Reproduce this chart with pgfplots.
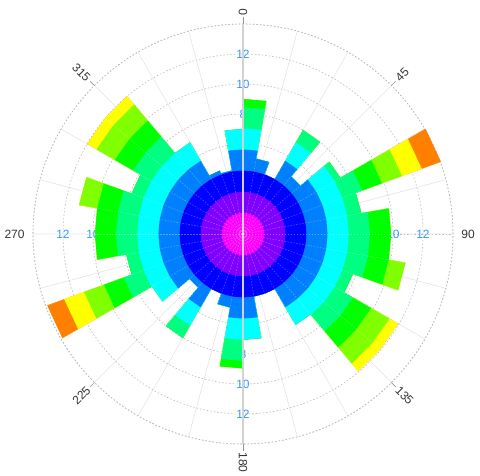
\documentclass[border=0pt]{standalone}
\usepackage{fontspec}
\setmainfont{Liberation Sans}
\usepackage{pgfplots}
\usepackage{pgfplotstable}
\pgfplotsset{compat=1.18}
\usepgfplotslibrary{polar}
\definecolor{cMag}{HTML}{FF00FF}
\definecolor{cPur}{HTML}{8000FF}
\definecolor{cBlu}{HTML}{0000FF}
\definecolor{cAzu}{HTML}{0080FF}
\definecolor{cCya}{HTML}{00FFFF}
\definecolor{cSpr}{HTML}{00FF80}
\definecolor{cGre}{HTML}{00FF00}
\definecolor{cCha}{HTML}{80FF00}
\definecolor{cYel}{HTML}{FFFF00}
\definecolor{cOra}{HTML}{FF8000}
\definecolor{cLab}{HTML}{3399FF}
\definecolor{cTxt}{HTML}{333333}
% compass angle (deg, clockwise from north) and cumulative radius of each band
\pgfplotstableread{
ang L1 L2 L3 L4 L5 L6 L7 L8 L9 L10
0 1.41 2.82 4.23 5.64 7.05 8.46 9.00 9.00 9.00 9.00
10 1.41 2.82 4.23 5.64 7.05 8.46 9.00 9.00 9.00 9.00
10 1.41 2.82 4.23 5.10 5.10 5.10 5.10 5.10 5.10 5.10
20 1.41 2.82 4.23 5.10 5.10 5.10 5.10 5.10 5.10 5.10
20 1.41 2.82 4.23 4.23 4.23 4.23 4.23 4.23 4.23 4.23
30 1.41 2.82 4.23 4.23 4.23 4.23 4.23 4.23 4.23 4.23
30 1.41 2.82 4.23 5.64 7.05 8.00 8.00 8.00 8.00 8.00
40 1.41 2.82 4.23 5.64 7.05 8.00 8.00 8.00 8.00 8.00
40 1.41 2.82 4.23 5.00 5.00 5.00 5.00 5.00 5.00 5.00
50 1.41 2.82 4.23 5.00 5.00 5.00 5.00 5.00 5.00 5.00
50 1.41 2.82 4.23 5.64 7.05 7.50 7.50 7.50 7.50 7.50
60 1.41 2.82 4.23 5.64 7.05 7.50 7.50 7.50 7.50 7.50
60 1.41 2.82 4.23 5.64 7.05 8.46 9.87 11.28 12.69 14.05
70 1.41 2.82 4.23 5.64 7.05 8.46 9.87 11.28 12.69 14.05
70 1.41 2.82 4.23 5.64 7.05 8.00 8.00 8.00 8.00 8.00
80 1.41 2.82 4.23 5.64 7.05 8.00 8.00 8.00 8.00 8.00
80 1.41 2.82 4.23 5.64 7.05 8.46 9.87 9.87 9.87 9.87
90 1.41 2.82 4.23 5.64 7.05 8.46 9.87 9.87 9.87 9.87
90 1.41 2.82 4.23 5.64 7.05 8.46 9.87 9.87 9.87 9.87
100 1.41 2.82 4.23 5.64 7.05 8.46 9.87 9.87 9.87 9.87
100 1.41 2.82 4.23 5.64 7.05 8.46 9.87 11.00 11.00 11.00
110 1.41 2.82 4.23 5.64 7.05 8.46 9.87 11.00 11.00 11.00
110 1.41 2.82 4.23 5.64 7.05 7.80 7.80 7.80 7.80 7.80
120 1.41 2.82 4.23 5.64 7.05 7.80 7.80 7.80 7.80 7.80
120 1.41 2.82 4.23 5.64 7.05 8.46 9.87 11.28 11.95 11.95
130 1.41 2.82 4.23 5.64 7.05 8.46 9.87 11.28 11.95 11.95
130 1.41 2.82 4.23 5.64 7.05 8.46 9.87 11.28 11.95 11.95
140 1.41 2.82 4.23 5.64 7.05 8.46 9.87 11.28 11.95 11.95
140 1.41 2.82 4.23 5.64 7.00 7.00 7.00 7.00 7.00 7.00
150 1.41 2.82 4.23 5.64 7.00 7.00 7.00 7.00 7.00 7.00
150 1.41 2.82 4.23 4.23 4.23 4.23 4.23 4.23 4.23 4.23
160 1.41 2.82 4.23 4.23 4.23 4.23 4.23 4.23 4.23 4.23
160 1.41 2.82 4.23 4.23 4.23 4.23 4.23 4.23 4.23 4.23
170 1.41 2.82 4.23 4.23 4.23 4.23 4.23 4.23 4.23 4.23
170 1.41 2.82 4.23 5.64 7.05 7.05 7.05 7.05 7.05 7.05
180 1.41 2.82 4.23 5.64 7.05 7.05 7.05 7.05 7.05 7.05
180 1.41 2.82 4.23 5.64 7.05 8.46 8.96 8.96 8.96 8.96
190 1.41 2.82 4.23 5.64 7.05 8.46 8.96 8.96 8.96 8.96
190 1.41 2.82 4.23 4.97 4.97 4.97 4.97 4.97 4.97 4.97
200 1.41 2.82 4.23 4.97 4.97 4.97 4.97 4.97 4.97 4.97
200 1.41 2.82 4.23 4.23 4.23 4.23 4.23 4.23 4.23 4.23
210 1.41 2.82 4.23 4.23 4.23 4.23 4.23 4.23 4.23 4.23
210 1.41 2.82 4.23 5.64 7.05 8.00 8.00 8.00 8.00 8.00
220 1.41 2.82 4.23 5.64 7.05 8.00 8.00 8.00 8.00 8.00
220 1.41 2.82 4.23 4.65 4.65 4.65 4.65 4.65 4.65 4.65
230 1.41 2.82 4.23 4.65 4.65 4.65 4.65 4.65 4.65 4.65
230 1.41 2.82 4.23 5.64 7.00 7.00 7.00 7.00 7.00 7.00
240 1.41 2.82 4.23 5.64 7.00 7.00 7.00 7.00 7.00 7.00
240 1.41 2.82 4.23 5.64 7.05 8.46 9.87 11.28 12.69 13.90
250 1.41 2.82 4.23 5.64 7.05 8.46 9.87 11.28 12.69 13.90
250 1.41 2.82 4.23 5.64 7.05 7.90 7.90 7.90 7.90 7.90
260 1.41 2.82 4.23 5.64 7.05 7.90 7.90 7.90 7.90 7.90
260 1.41 2.82 4.23 5.64 7.05 8.46 9.87 9.87 9.87 9.87
270 1.41 2.82 4.23 5.64 7.05 8.46 9.87 9.87 9.87 9.87
270 1.41 2.82 4.23 5.64 7.05 8.46 9.87 9.87 9.87 9.87
280 1.41 2.82 4.23 5.64 7.05 8.46 9.87 9.87 9.87 9.87
280 1.41 2.82 4.23 5.64 7.05 8.46 9.87 11.10 11.10 11.10
290 1.41 2.82 4.23 5.64 7.05 8.46 9.87 11.10 11.10 11.10
290 1.41 2.82 4.23 5.64 7.05 7.90 7.90 7.90 7.90 7.90
300 1.41 2.82 4.23 5.64 7.05 7.90 7.90 7.90 7.90 7.90
300 1.41 2.82 4.23 5.64 7.05 8.46 9.87 11.28 12.00 12.00
310 1.41 2.82 4.23 5.64 7.05 8.46 9.87 11.28 12.00 12.00
310 1.41 2.82 4.23 5.64 7.05 8.46 9.87 11.28 12.00 12.00
320 1.41 2.82 4.23 5.64 7.05 8.46 9.87 11.28 12.00 12.00
320 1.41 2.82 4.23 5.64 7.05 7.05 7.05 7.05 7.05 7.05
330 1.41 2.82 4.23 5.64 7.05 7.05 7.05 7.05 7.05 7.05
330 1.41 2.82 4.23 4.50 4.50 4.50 4.50 4.50 4.50 4.50
340 1.41 2.82 4.23 4.50 4.50 4.50 4.50 4.50 4.50 4.50
340 1.41 2.82 4.23 4.30 4.30 4.30 4.30 4.30 4.30 4.30
350 1.41 2.82 4.23 4.30 4.30 4.30 4.30 4.30 4.30 4.30
350 1.41 2.82 4.23 5.64 7.00 7.00 7.00 7.00 7.00 7.00
360 1.41 2.82 4.23 5.64 7.00 7.00 7.00 7.00 7.00 7.00
}\rosedata
\tikzset{rlab/.style={text=cLab, font=\fontsize{12}{14}\selectfont, inner sep=0pt},
  clab/.style={text=cTxt, font=\fontsize{12}{14}\selectfont, inner sep=0pt},
  ctick/.style={gray!85, line width=0.7pt},
  sedge/.style={white, opacity=0.35, line width=0.5pt, dash pattern=on 1.5pt off 1.5pt}}
\begin{document}
\begin{tikzpicture}
\begin{polaraxis}[
  clip=false,
  scale only axis, width=420pt, height=420pt,
  ymin=0, ymax=14,
  xtick={0,15,...,345}, ytick={2,4,...,14},
  xticklabels={}, yticklabels={},
  major tick length=0pt,
  grid=major,
  x grid style={gray!22, line width=0.6pt},
  y grid style={gray!55, line width=0.6pt, dash pattern=on 1.5pt off 2pt},
  axis line style={gray!55, line width=0.6pt, dash pattern=on 1.5pt off 2pt},
]
\coordinate (O) at (axis cs:0,0);
% radial labels under the bars
\node[rlab] at (axis cs:90,8) {8};
\node[rlab] at (axis cs:90,10) {10};
\node[rlab] at (axis cs:90,12) {12};
\node[rlab] at (axis cs:0,8) {8};
\node[rlab] at (axis cs:0,10) {10};
\node[rlab] at (axis cs:0,12) {12};
\node[rlab] at (axis cs:270,8) {8};
\node[rlab] at (axis cs:270,10) {10};
\node[rlab] at (axis cs:270,12) {12};
\node[rlab] at (axis cs:180,8) {8};
\node[rlab] at (axis cs:180,10) {10};
\node[rlab] at (axis cs:180,12) {12};
\addplot[draw=none, fill=cOra] table[x expr=90-\thisrow{ang}, y=L10] {\rosedata};
\addplot[draw=none, fill=cYel] table[x expr=90-\thisrow{ang}, y=L9] {\rosedata};
\addplot[draw=none, fill=cCha] table[x expr=90-\thisrow{ang}, y=L8] {\rosedata};
\addplot[draw=none, fill=cGre] table[x expr=90-\thisrow{ang}, y=L7] {\rosedata};
\addplot[draw=none, fill=cSpr] table[x expr=90-\thisrow{ang}, y=L6] {\rosedata};
\addplot[draw=none, fill=cCya] table[x expr=90-\thisrow{ang}, y=L5] {\rosedata};
\addplot[draw=none, fill=cAzu] table[x expr=90-\thisrow{ang}, y=L4] {\rosedata};
\addplot[draw=none, fill=cBlu] table[x expr=90-\thisrow{ang}, y=L3] {\rosedata};
\addplot[draw=none, fill=cPur] table[x expr=90-\thisrow{ang}, y=L2] {\rosedata};
\addplot[draw=none, fill=cMag] table[x expr=90-\thisrow{ang}, y=L1] {\rosedata};
% faint sector edges over the bars (invisible on white)
\draw[sedge] (axis cs:0,0) -- (axis cs:0,14.05);
\draw[sedge] (axis cs:10,0) -- (axis cs:10,14.05);
\draw[sedge] (axis cs:20,0) -- (axis cs:20,14.05);
\draw[sedge] (axis cs:30,0) -- (axis cs:30,14.05);
\draw[sedge] (axis cs:40,0) -- (axis cs:40,14.05);
\draw[sedge] (axis cs:50,0) -- (axis cs:50,14.05);
\draw[sedge] (axis cs:60,0) -- (axis cs:60,14.05);
\draw[sedge] (axis cs:70,0) -- (axis cs:70,14.05);
\draw[sedge] (axis cs:80,0) -- (axis cs:80,14.05);
\draw[sedge] (axis cs:100,0) -- (axis cs:100,14.05);
\draw[sedge] (axis cs:110,0) -- (axis cs:110,14.05);
\draw[sedge] (axis cs:120,0) -- (axis cs:120,14.05);
\draw[sedge] (axis cs:130,0) -- (axis cs:130,14.05);
\draw[sedge] (axis cs:140,0) -- (axis cs:140,14.05);
\draw[sedge] (axis cs:150,0) -- (axis cs:150,14.05);
\draw[sedge] (axis cs:160,0) -- (axis cs:160,14.05);
\draw[sedge] (axis cs:170,0) -- (axis cs:170,14.05);
\draw[sedge] (axis cs:180,0) -- (axis cs:180,14.05);
\draw[sedge] (axis cs:190,0) -- (axis cs:190,14.05);
\draw[sedge] (axis cs:200,0) -- (axis cs:200,14.05);
\draw[sedge] (axis cs:210,0) -- (axis cs:210,14.05);
\draw[sedge] (axis cs:220,0) -- (axis cs:220,14.05);
\draw[sedge] (axis cs:230,0) -- (axis cs:230,14.05);
\draw[sedge] (axis cs:240,0) -- (axis cs:240,14.05);
\draw[sedge] (axis cs:250,0) -- (axis cs:250,14.05);
\draw[sedge] (axis cs:260,0) -- (axis cs:260,14.05);
\draw[sedge] (axis cs:280,0) -- (axis cs:280,14.05);
\draw[sedge] (axis cs:290,0) -- (axis cs:290,14.05);
\draw[sedge] (axis cs:300,0) -- (axis cs:300,14.05);
\draw[sedge] (axis cs:310,0) -- (axis cs:310,14.05);
\draw[sedge] (axis cs:320,0) -- (axis cs:320,14.05);
\draw[sedge] (axis cs:330,0) -- (axis cs:330,14.05);
\draw[sedge] (axis cs:340,0) -- (axis cs:340,14.05);
\draw[sedge] (axis cs:350,0) -- (axis cs:350,14.05);
% north-south reference line
\draw[gray!35, line width=1.2pt] (axis cs:90,14) -- (axis cs:270,14);
\fill[white] (axis cs:0,0) circle[radius=1pt];
% compass ticks and labels
\draw[ctick] (axis cs:90,14) -- (axis cs:90,14.45);
\draw[ctick] (axis cs:45,14) -- (axis cs:45,14.4);
\draw[ctick] (axis cs:-45,14) -- (axis cs:-45,14.4);
\draw[ctick] (axis cs:-90,14) -- (axis cs:-90,14.45);
\draw[ctick] (axis cs:-135,14) -- (axis cs:-135,14.4);
\draw[ctick] (axis cs:-225,14) -- (axis cs:-225,14.4);
\node[clab, anchor=west, rotate=90] at (axis cs:90,14.55) {0};
\node[clab, anchor=west, rotate=45] at (axis cs:45,14.55) {45};
\node[clab, anchor=west, rotate=0] at (axis cs:0,14.55) {90};
\node[clab, anchor=west, rotate=-45] at (axis cs:-45,14.55) {135};
\node[clab, anchor=west, rotate=-90] at (axis cs:-90,14.55) {180};
\node[clab, anchor=east, rotate=45] at (axis cs:-135,14.55) {225};
\node[clab, anchor=east, rotate=0] at (axis cs:-180,14.55) {270};
\node[clab, anchor=east, rotate=-45] at (axis cs:-225,14.55) {315};
\end{polaraxis}
\pgfresetboundingbox
\path (O) ++(-243pt,-241pt) rectangle ++(480pt,475pt);
\end{tikzpicture}
\end{document}
